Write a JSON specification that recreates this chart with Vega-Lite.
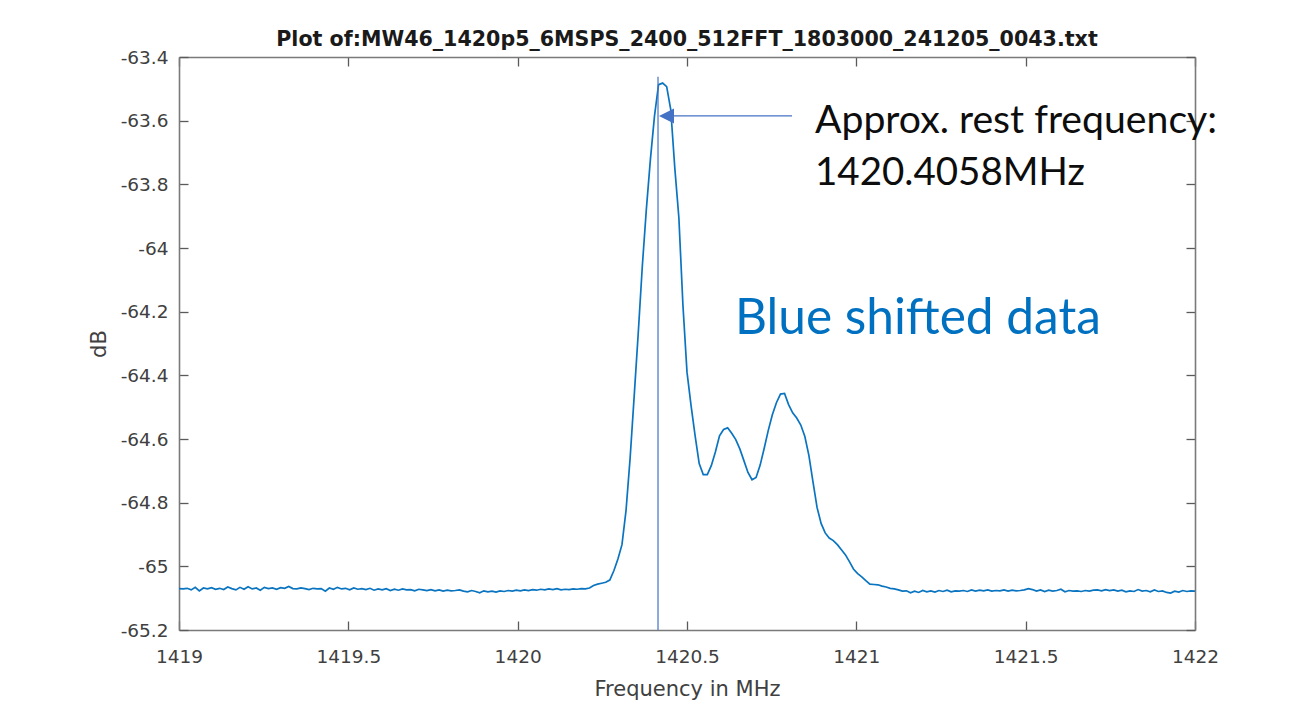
{
  "$schema": "https://vega.github.io/schema/vega-lite/v6.json",
  "width": 1016,
  "height": 573,
  "autosize": {"type": "none"},
  "padding": {"left": 179, "top": 57, "right": 112, "bottom": 76},
  "background": "white",
  "config": {
    "view": {"stroke": null},
    "axis": {
      "grid": false,
      "labelFont": "DejaVu Sans",
      "labelFontSize": 18.5,
      "labelColor": "#404040",
      "titleFont": "DejaVu Sans",
      "titleFontSize": 21,
      "titleFontWeight": "normal",
      "titleColor": "#404040",
      "domainColor": "#7a7a7a",
      "domainWidth": 1.6,
      "tickColor": "#5a5a5a",
      "tickWidth": 1.3,
      "labelFlush": false,
      "labelOverlap": false
    }
  },
  "title": {
    "text": "Plot of:MW46_1420p5_6MSPS_2400_512FFT_1803000_241205_0043.txt",
    "font": "DejaVu Sans",
    "fontSize": 20.6,
    "fontWeight": "bold",
    "color": "#1a1a1a",
    "anchor": "middle",
    "frame": "group",
    "baseline": "alphabetic",
    "offset": 12,
    "dy": 31
  },
  "datasets": {
    "spectrum": [
      {"f":1419.000,"v":-65.070},{"f":1419.012,"v":-65.071},{"f":1419.024,"v":-65.069},{"f":1419.036,"v":-65.074},{"f":1419.048,"v":-65.066},
      {"f":1419.060,"v":-65.077},{"f":1419.072,"v":-65.068},{"f":1419.084,"v":-65.071},{"f":1419.096,"v":-65.067},{"f":1419.108,"v":-65.072},
      {"f":1419.120,"v":-65.069},{"f":1419.132,"v":-65.073},{"f":1419.144,"v":-65.065},{"f":1419.156,"v":-65.070},{"f":1419.168,"v":-65.074},
      {"f":1419.180,"v":-65.066},{"f":1419.192,"v":-65.072},{"f":1419.204,"v":-65.064},{"f":1419.216,"v":-65.071},{"f":1419.228,"v":-65.068},
      {"f":1419.240,"v":-65.075},{"f":1419.252,"v":-65.066},{"f":1419.264,"v":-65.070},{"f":1419.276,"v":-65.068},{"f":1419.288,"v":-65.072},
      {"f":1419.300,"v":-65.067},{"f":1419.312,"v":-65.069},{"f":1419.324,"v":-65.063},{"f":1419.336,"v":-65.070},{"f":1419.348,"v":-65.071},
      {"f":1419.360,"v":-65.068},{"f":1419.372,"v":-65.070},{"f":1419.384,"v":-65.073},{"f":1419.396,"v":-65.069},{"f":1419.408,"v":-65.071},
      {"f":1419.420,"v":-65.070},{"f":1419.432,"v":-65.078},{"f":1419.444,"v":-65.068},{"f":1419.456,"v":-65.072},{"f":1419.468,"v":-65.066},
      {"f":1419.480,"v":-65.071},{"f":1419.492,"v":-65.069},{"f":1419.504,"v":-65.074},{"f":1419.516,"v":-65.068},{"f":1419.528,"v":-65.072},
      {"f":1419.540,"v":-65.070},{"f":1419.552,"v":-65.073},{"f":1419.564,"v":-65.069},{"f":1419.576,"v":-65.075},{"f":1419.588,"v":-65.071},
      {"f":1419.600,"v":-65.074},{"f":1419.612,"v":-65.070},{"f":1419.624,"v":-65.076},{"f":1419.636,"v":-65.072},{"f":1419.648,"v":-65.075},
      {"f":1419.660,"v":-65.071},{"f":1419.672,"v":-65.074},{"f":1419.684,"v":-65.073},{"f":1419.696,"v":-65.077},{"f":1419.708,"v":-65.072},
      {"f":1419.720,"v":-65.074},{"f":1419.732,"v":-65.076},{"f":1419.744,"v":-65.073},{"f":1419.756,"v":-65.077},{"f":1419.768,"v":-65.074},
      {"f":1419.780,"v":-65.078},{"f":1419.792,"v":-65.075},{"f":1419.804,"v":-65.077},{"f":1419.816,"v":-65.076},{"f":1419.828,"v":-65.074},
      {"f":1419.840,"v":-65.078},{"f":1419.852,"v":-65.080},{"f":1419.864,"v":-65.076},{"f":1419.876,"v":-65.079},{"f":1419.888,"v":-65.083},
      {"f":1419.900,"v":-65.077},{"f":1419.912,"v":-65.080},{"f":1419.924,"v":-65.078},{"f":1419.936,"v":-65.081},{"f":1419.948,"v":-65.077},
      {"f":1419.960,"v":-65.079},{"f":1419.972,"v":-65.076},{"f":1419.984,"v":-65.078},{"f":1419.996,"v":-65.075},{"f":1420.008,"v":-65.077},
      {"f":1420.020,"v":-65.074},{"f":1420.032,"v":-65.076},{"f":1420.044,"v":-65.073},{"f":1420.056,"v":-65.075},{"f":1420.068,"v":-65.072},
      {"f":1420.080,"v":-65.074},{"f":1420.092,"v":-65.071},{"f":1420.104,"v":-65.073},{"f":1420.116,"v":-65.070},{"f":1420.128,"v":-65.074},
      {"f":1420.140,"v":-65.072},{"f":1420.152,"v":-65.073},{"f":1420.164,"v":-65.071},{"f":1420.176,"v":-65.072},{"f":1420.188,"v":-65.070},
      {"f":1420.200,"v":-65.071},{"f":1420.212,"v":-65.068},{"f":1420.224,"v":-65.060},{"f":1420.236,"v":-65.056},{"f":1420.248,"v":-65.053},
      {"f":1420.260,"v":-65.050},{"f":1420.272,"v":-65.043},{"f":1420.284,"v":-65.014},{"f":1420.296,"v":-64.977},{"f":1420.308,"v":-64.932},
      {"f":1420.320,"v":-64.824},{"f":1420.332,"v":-64.661},{"f":1420.344,"v":-64.466},{"f":1420.356,"v":-64.268},{"f":1420.368,"v":-64.058},
      {"f":1420.380,"v":-63.878},{"f":1420.392,"v":-63.721},{"f":1420.404,"v":-63.586},{"f":1420.416,"v":-63.487},{"f":1420.428,"v":-63.482},
      {"f":1420.440,"v":-63.493},{"f":1420.452,"v":-63.565},{"f":1420.464,"v":-63.749},{"f":1420.476,"v":-63.905},{"f":1420.488,"v":-64.180},
      {"f":1420.500,"v":-64.390},{"f":1420.512,"v":-64.495},{"f":1420.524,"v":-64.590},{"f":1420.536,"v":-64.677},{"f":1420.548,"v":-64.712},
      {"f":1420.560,"v":-64.712},{"f":1420.572,"v":-64.683},{"f":1420.584,"v":-64.640},{"f":1420.596,"v":-64.590},{"f":1420.608,"v":-64.570},
      {"f":1420.620,"v":-64.565},{"f":1420.632,"v":-64.582},{"f":1420.644,"v":-64.602},{"f":1420.656,"v":-64.631},{"f":1420.668,"v":-64.668},
      {"f":1420.680,"v":-64.705},{"f":1420.692,"v":-64.728},{"f":1420.704,"v":-64.721},{"f":1420.716,"v":-64.682},{"f":1420.728,"v":-64.629},
      {"f":1420.740,"v":-64.573},{"f":1420.752,"v":-64.524},{"f":1420.764,"v":-64.486},{"f":1420.776,"v":-64.459},{"f":1420.788,"v":-64.457},
      {"f":1420.800,"v":-64.492},{"f":1420.812,"v":-64.518},{"f":1420.824,"v":-64.534},{"f":1420.836,"v":-64.556},{"f":1420.848,"v":-64.592},
      {"f":1420.860,"v":-64.652},{"f":1420.872,"v":-64.735},{"f":1420.884,"v":-64.815},{"f":1420.896,"v":-64.865},{"f":1420.908,"v":-64.895},
      {"f":1420.920,"v":-64.911},{"f":1420.932,"v":-64.919},{"f":1420.944,"v":-64.932},{"f":1420.956,"v":-64.948},{"f":1420.968,"v":-64.964},
      {"f":1420.980,"v":-64.986},{"f":1420.992,"v":-65.009},{"f":1421.004,"v":-65.023},{"f":1421.016,"v":-65.033},{"f":1421.028,"v":-65.045},
      {"f":1421.040,"v":-65.056},{"f":1421.052,"v":-65.057},{"f":1421.064,"v":-65.058},{"f":1421.076,"v":-65.062},{"f":1421.088,"v":-65.065},
      {"f":1421.100,"v":-65.069},{"f":1421.112,"v":-65.071},{"f":1421.124,"v":-65.074},{"f":1421.136,"v":-65.078},{"f":1421.148,"v":-65.077},
      {"f":1421.160,"v":-65.083},{"f":1421.172,"v":-65.078},{"f":1421.184,"v":-65.082},{"f":1421.196,"v":-65.076},{"f":1421.208,"v":-65.080},
      {"f":1421.220,"v":-65.077},{"f":1421.232,"v":-65.081},{"f":1421.244,"v":-65.076},{"f":1421.256,"v":-65.079},{"f":1421.268,"v":-65.075},
      {"f":1421.280,"v":-65.080},{"f":1421.292,"v":-65.077},{"f":1421.304,"v":-65.078},{"f":1421.316,"v":-65.076},{"f":1421.328,"v":-65.079},
      {"f":1421.340,"v":-65.074},{"f":1421.352,"v":-65.078},{"f":1421.364,"v":-65.075},{"f":1421.376,"v":-65.077},{"f":1421.388,"v":-65.074},
      {"f":1421.400,"v":-65.078},{"f":1421.412,"v":-65.076},{"f":1421.424,"v":-65.077},{"f":1421.436,"v":-65.074},{"f":1421.448,"v":-65.078},
      {"f":1421.460,"v":-65.075},{"f":1421.472,"v":-65.077},{"f":1421.484,"v":-65.076},{"f":1421.496,"v":-65.074},{"f":1421.508,"v":-65.070},
      {"f":1421.520,"v":-65.073},{"f":1421.532,"v":-65.078},{"f":1421.544,"v":-65.074},{"f":1421.556,"v":-65.079},{"f":1421.568,"v":-65.075},
      {"f":1421.580,"v":-65.078},{"f":1421.592,"v":-65.076},{"f":1421.604,"v":-65.072},{"f":1421.616,"v":-65.080},{"f":1421.628,"v":-65.076},
      {"f":1421.640,"v":-65.078},{"f":1421.652,"v":-65.077},{"f":1421.664,"v":-65.079},{"f":1421.676,"v":-65.076},{"f":1421.688,"v":-65.078},
      {"f":1421.700,"v":-65.075},{"f":1421.712,"v":-65.074},{"f":1421.724,"v":-65.077},{"f":1421.736,"v":-65.073},{"f":1421.748,"v":-65.076},
      {"f":1421.760,"v":-65.074},{"f":1421.772,"v":-65.078},{"f":1421.784,"v":-65.075},{"f":1421.796,"v":-65.080},{"f":1421.808,"v":-65.077},
      {"f":1421.820,"v":-65.079},{"f":1421.832,"v":-65.073},{"f":1421.844,"v":-65.078},{"f":1421.856,"v":-65.076},{"f":1421.868,"v":-65.080},
      {"f":1421.880,"v":-65.074},{"f":1421.892,"v":-65.079},{"f":1421.904,"v":-65.077},{"f":1421.916,"v":-65.082},{"f":1421.928,"v":-65.084},
      {"f":1421.940,"v":-65.078},{"f":1421.952,"v":-65.081},{"f":1421.964,"v":-65.076},{"f":1421.976,"v":-65.079},{"f":1421.988,"v":-65.077},
      {"f":1422.000,"v":-65.078}
    ]
  },
  "resolve": {"axis": {"x": "independent", "y": "independent"}},
  "layer": [
    {
      "data": {"name": "spectrum"},
      "mark": {"type": "line", "color": "#0a74c0", "strokeWidth": 1.7, "clip": true},
      "encoding": {
        "x": {
          "field": "f", "type": "quantitative",
          "scale": {"domain": [1419, 1422], "nice": false, "zero": false},
          "axis": {
            "orient": "bottom",
            "title": "Frequency in MHz",
            "values": [1419, 1419.5, 1420, 1420.5, 1421, 1421.5, 1422],
            "labelExpr": "'' + datum.value",
            "tickSize": -9,
            "labelPadding": 26,
            "titleBaseline": "alphabetic",
            "titleY": 65
          }
        },
        "y": {
          "field": "v", "type": "quantitative",
          "scale": {"domain": [-65.2, -63.4], "nice": false, "zero": false},
          "axis": {
            "orient": "left",
            "title": "dB",
            "values": [-65.2, -65, -64.8, -64.6, -64.4, -64.2, -64, -63.8, -63.6, -63.4],
            "labelExpr": "'' + datum.value",
            "tickSize": -9,
            "labelPadding": 20,
            "titleBaseline": "alphabetic",
            "titleX": -74,
            "titleY": 286.5
          }
        }
      }
    },
    {
      "data": {"values": [{}]},
      "mark": {"type": "rule", "color": "#4472C4", "strokeWidth": 1.2},
      "encoding": {
        "x": {
          "datum": 1420.4144, "type": "quantitative",
          "axis": {
            "orient": "top", "title": null, "labels": false, "tickSize": -9,
            "values": [1419, 1419.5, 1420, 1420.5, 1421, 1421.5, 1422]
          }
        },
        "y": {
          "datum": -63.462, "type": "quantitative",
          "axis": {
            "orient": "right", "title": null, "labels": false, "tickSize": -9,
            "values": [-65.2, -65, -64.8, -64.6, -64.4, -64.2, -64, -63.8, -63.6, -63.4]
          }
        },
        "y2": {"datum": -65.2}
      }
    },
    {
      "data": {"values": [{}]},
      "mark": {"type": "rule", "color": "#4472C4", "strokeWidth": 1.2},
      "encoding": {
        "x": {"datum": 1420.455, "type": "quantitative", "axis": null},
        "x2": {"datum": 1420.810},
        "y": {"datum": -63.585, "type": "quantitative", "axis": null}
      }
    },
    {
      "data": {"values": [{}]},
      "mark": {"type": "point", "shape": "M-1,0L1,-1L1,1Z", "filled": true, "color": "#4472C4", "size": 225, "opacity": 1, "strokeWidth": 0},
      "encoding": {
        "x": {"datum": 1420.4394, "type": "quantitative", "axis": null},
        "y": {"datum": -63.585, "type": "quantitative", "axis": null}
      }
    },
    {
      "data": {"values": [{}]},
      "mark": {"type": "text", "text": "Approx. rest frequency:", "font": "Lato", "fontSize": 39.2, "color": "#0d0d0d", "align": "left", "baseline": "alphabetic"},
      "encoding": {
        "x": {"datum": 1420.8779, "type": "quantitative", "axis": null},
        "y": {"datum": -63.6387, "type": "quantitative", "axis": null}
      }
    },
    {
      "data": {"values": [{}]},
      "mark": {"type": "text", "text": "1420.4058MHz", "font": "Lato", "fontSize": 38.5, "color": "#0d0d0d", "align": "left", "baseline": "alphabetic"},
      "encoding": {
        "x": {"datum": 1420.8779, "type": "quantitative", "axis": null},
        "y": {"datum": -63.8021, "type": "quantitative", "axis": null}
      }
    },
    {
      "data": {"values": [{}]},
      "mark": {"type": "text", "text": "Blue shifted data", "font": "Lato", "fontSize": 49.6, "color": "#0070C0", "align": "left", "baseline": "alphabetic"},
      "encoding": {
        "x": {"datum": 1420.6417, "type": "quantitative", "axis": null},
        "y": {"datum": -64.2702, "type": "quantitative", "axis": null}
      }
    }
  ]
}
